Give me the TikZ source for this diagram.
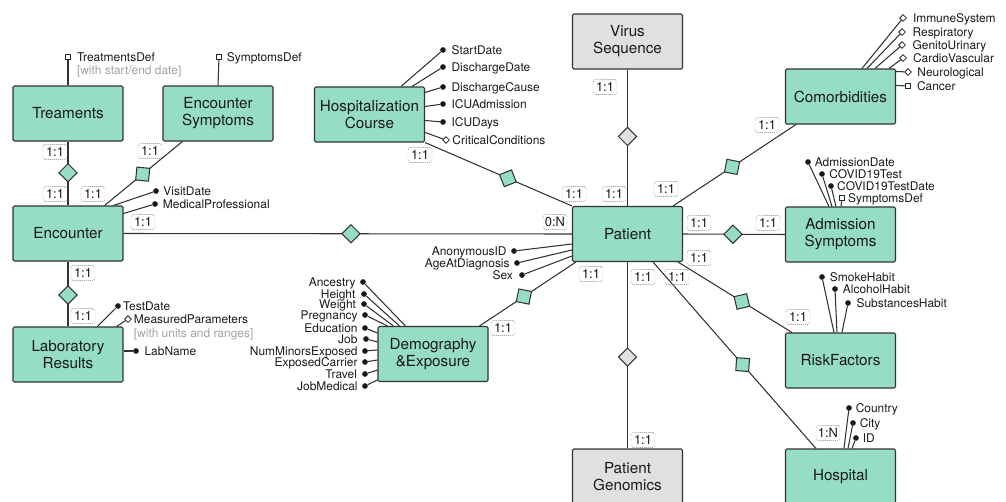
\documentclass[tikz,border=0pt]{standalone}
\usepackage{fontspec}
\setmainfont{TeX Gyre Heros}
\usetikzlibrary{shapes.geometric,positioning,calc}
\definecolor{mint}{RGB}{150,221,199}
\definecolor{boxgray}{RGB}{224,224,224}
\definecolor{edge}{RGB}{50,50,50}
\definecolor{notegray}{RGB}{160,160,160}
\begin{document}
\begin{tikzpicture}[x=0.03cm,y=-0.03cm,
  entity/.style={draw=edge, line width=0.9pt, fill=mint, rounded corners=1.2pt,
    minimum width=3.3cm, minimum height=1.65cm, inner sep=0pt, align=center,
    font=\fontsize{13}{14.5}\selectfont, text=black!90},
  greyent/.style={entity, fill=boxgray},
  rel/.style={diamond, draw=edge, line width=0.9pt, fill=mint, inner sep=0pt,
    minimum width=0.56cm, minimum height=0.56cm},
  greyrel/.style={rel, fill=boxgray},
  link/.style={draw=edge, line width=0.9pt},
  card/.style={draw=black!50, dash pattern=on 0.9pt off 0.8pt, rounded corners=1.5pt,
    inner sep=1pt, minimum width=0.72cm, minimum height=0.44cm,
    font=\fontsize{11}{12}\selectfont, text=black!90},
  dotm/.style={circle, fill=black!90, inner sep=0pt, minimum size=0.17cm},
  sqm/.style={draw=black!85, fill=white, line width=0.7pt, inner sep=0pt, minimum size=0.15cm},
  dmm/.style={diamond, draw=black!85, fill=white, line width=0.7pt, inner sep=0pt, minimum size=0.21cm},
  attr/.style={font=\fontsize{10.2}{11}\selectfont, inner sep=0pt, text height=7.3pt, text depth=0pt, text=black!90},
  note/.style={attr, text=notegray},
]
\useasboundingbox (0,0) rectangle (1006,501);

% ---------- entities ----------
\node[entity] (treat) at (68,113.5) {Treaments};
\node[entity] (encsym) at (218,113.5) {Encounter\\Symptoms};
\node[entity] (enc) at (68,233.5) {Encounter};
\node[entity] (lab) at (68,354.5) {Laboratory\\Results};
\node[entity] (hosp) at (369.5,114.5) {Hospitalization\\Course};
\node[greyent] (virus) at (627.5,41.5) {Virus\\Sequence};
\node[entity] (comorb) at (840.5,96.5) {Comorbidities};
\node[entity] (pat) at (627.5,234) {Patient};
\node[entity] (adm) at (840.5,234.5) {Admission\\Symptoms};
\node[entity] (risk) at (840.5,360.5) {RiskFactors};
\node[entity] (hospital) at (840.5,476.5) {Hospital};
\node[greyent] (gen) at (627.5,476.5) {Patient\\Genomics};
\node[entity] (dem) at (433,354) {Demography\\\&Exposure};

% ---------- relationships ----------
\draw[link] (treat.south) -- node[rel,pos=0.49,sloped] (r1) {} (enc.north);
\draw[link] ($(enc.north east)+(-19,0)$) -- node[rel,pos=0.49,sloped] (r2) {} ($(encsym.south west)+(20,0)$);
\draw[link] (enc.east) -- node[rel,pos=0.507] (r3) {} (pat.west);
\draw[link] (enc.south) -- node[rel,pos=0.515,sloped] (r4) {} (lab.north);
\draw[link] (hosp.south east) -- node[rel,pos=0.564,sloped] (r5) {} (pat.north west);
\draw[link] (virus.south) -- node[greyrel,pos=0.49,sloped] (r6) {} (pat.north);
\draw[link] ($(pat.north east)+(-10,0)$) -- node[rel,pos=0.48,sloped] (r7) {} ($(comorb.south west)+(11,0)$);
\draw[link] (pat.east) -- node[rel,pos=0.49] (r8) {} (adm.west);
\draw[link] ($(pat.south east)+(-5,0)$) -- node[rel,pos=0.56,sloped] (r9) {} ($(risk.north west)+(7,0)$);
\draw[link] ($(pat.south east)+(-30,0)$) -- node[rel,pos=0.55,sloped] (r10) {} ($(hospital.north west)+(31,0)$);
\draw[link] (pat.south) -- node[greyrel,pos=0.51,sloped] (r11) {} (gen.north);
\draw[link] ($(dem.north east)+(-9,0)$) -- node[rel,pos=0.46,sloped] (r12) {} ($(pat.south west)+(4,0)$);

% ---------- cardinalities ----------
\node[card] (k1) at (55,152) {1:1};
\node[card] (k2) at (55,194) {1:1};
\node[card] (k3) at (150,151) {1:1};
\node[card] (k4) at (93,194) {1:1};
\node[card] (k5) at (143,222) {1:1};
\node[card] (k6) at (555,222) {0:N};
\node[card] (k7) at (83,273) {1:1};
\node[card] (k8) at (83,316) {1:1};
\node[card] (k9) at (420,155) {1:1};
\node[card] (k10) at (574,194) {1:1};
\node[card] (k11) at (605,87) {1:1};
\node[card] (k12) at (614,194) {1:1};
\node[card] (k13) at (767,125) {1:1};
\node[card] (k14) at (666,189) {1:1};
\node[card] (k15) at (699,223) {1:1};
\node[card] (k16) at (768,223) {1:1};
\node[card] (k17) at (699,258) {1:1};
\node[card] (k18) at (798,317) {1:1};
\node[card] (k19) at (677,277) {1:1};
\node[card] (k20) at (828,433) {1:N};
\node[card] (k21) at (643,277) {1:1};
\node[card] (k22) at (643,440) {1:1};
\node[card] (k23) at (591,274) {1:1};
\node[card] (k24) at (503,328) {1:1};

% ---------- attributes: Treaments / Encounter Symptoms ----------
\node[sqm] (ta) at (68,57) {};
\node[attr, right=5pt of ta] (tat) {TreatmentsDef};
\node[note, anchor=west] (tan) at ($(tat.west)+(0,13)$) {[with start/end date]};
\draw[link] (treat.north) -- (ta);
\node[sqm] (esa) at (219,57) {};
\node[attr, right=4pt of esa] (esat) {SymptomsDef};
\draw[link] (encsym.north) -- (esa);

% ---------- attributes: Encounter ----------
\node[dotm] (e1) at (156,191) {};
\node[attr, right=3.5pt of e1] (e1t) {VisitDate};
\draw[link] ($(enc.north east)+(-10,0)$) -- (e1);
\node[dotm] (e2) at (155,204) {};
\node[attr, right=4pt of e2] (e2t) {MedicalProfessional};
\draw[link] ($(enc.north east)+(0,8)$) -- (e2);

% ---------- attributes: Laboratory Results ----------
\node[dotm] (l1) at (118,306) {};
\node[attr, right=1.5pt of l1] (l1t) {TestDate};
\draw[link] ($(lab.north west)+(85,0)$) -- (l1);
\node[dmm] (l2) at (128,319) {};
\node[attr, right=1.5pt of l2] (l2t) {MeasuredParameters};
\node[note, anchor=west] (l2n) at ($(l2t.west)+(0,14)$) {[with units and ranges]};
\draw[link] ($(lab.north west)+(104,0)$) -- (l2);
\node[dotm] (l3) at (136,351) {};
\node[attr, right=4.5pt of l3] (l3t) {LabName};
\draw[link] ($(lab.east)+(0,-3.5)$) -- (l3);

% ---------- attributes: Hospitalization Course ----------
\node[dotm] (h1) at (443,50) {};
\node[attr, right=4.5pt of h1] (h1t) {StartDate};
\draw[link] ($(hosp.north west)+(87,0)$) -- (h1);
\node[dotm] (h2) at (443,67) {};
\node[attr, right=4.5pt of h2] (h2t) {DischargeDate};
\draw[link] ($(hosp.north west)+(98,0)$) -- (h2);
\node[dotm] (h3) at (443,87) {};
\node[attr, right=4.5pt of h3] (h3t) {DischargeCause};
\draw[link] ($(hosp.north east)+(0,6)$) -- (h3);
\node[dotm] (h4) at (443,104) {};
\node[attr, right=4.5pt of h4] (h4t) {ICUAdmission};
\draw[link] ($(hosp.north east)+(0,20)$) -- (h4);
\node[dotm] (h5) at (443,122) {};
\node[attr, right=4.5pt of h5] (h5t) {ICUDays};
\draw[link] ($(hosp.north east)+(0,34)$) -- (h5);
\node[dmm] (h6) at (446,140) {};
\node[attr, right=2pt of h6] (h6t) {CriticalConditions};
\draw[link] ($(hosp.north east)+(0,46)$) -- (h6);

% ---------- attributes: Comorbidities ----------
\node[dmm] (cm1) at (903,18) {};
\node[attr, right=5pt of cm1] (cm1t) {ImmuneSystem};
\draw[link] ($(comorb.north west)+(77,0)$) -- (cm1);
\node[dmm] (cm2) at (902,32) {};
\node[attr, right=5.5pt of cm2] (cm2t) {Respiratory};
\draw[link] ($(comorb.north west)+(82,0)$) -- (cm2);
\node[dmm] (cm3) at (902,45) {};
\node[attr, right=5.5pt of cm3] (cm3t) {GenitoUrinary};
\draw[link] ($(comorb.north west)+(90,0)$) -- (cm3);
\node[dmm] (cm4) at (903,58) {};
\node[attr, right=5pt of cm4] (cm4t) {CardioVascular};
\draw[link] ($(comorb.north west)+(104,0)$) -- (cm4);
\node[dmm] (cm5) at (908,72) {};
\node[attr, right=4.5pt of cm5] (cm5t) {Neurological};
\draw[link] ($(comorb.north east)+(0,3)$) -- (cm5);
\node[sqm] (cm6) at (908,86) {};
\node[attr, right=5pt of cm6] (cm6t) {Cancer};
\draw[link] ($(comorb.north east)+(0,17)$) -- (cm6);

% ---------- attributes: Admission Symptoms ----------
\node[dotm] (a1) at (808,162) {};
\node[attr, right=3pt of a1] (a1t) {AdmissionDate};
\draw[link] ($(adm.north west)+(44,0)$) -- (a1);
\node[dotm] (a2) at (822,174) {};
\node[attr, right=3.5pt of a2] (a2t) {COVID19Test};
\draw[link] ($(adm.north west)+(47,0)$) -- (a2);
\node[dotm] (a3) at (831,186) {};
\node[attr, right=2.5pt of a3] (a3t) {COVID19TestDate};
\draw[link] ($(adm.north west)+(51,0)$) -- (a3);
\node[sqm] (a4) at (842,198) {};
\node[attr, right=2.5pt of a4] (a4t) {SymptomsDef};
\draw[link] ($(adm.north west)+(56,0)$) -- (a4);

% ---------- attributes: RiskFactors ----------
\node[dotm] (rk1) at (822,277) {};
\node[attr, right=4pt of rk1] (rk1t) {SmokeHabit};
\draw[link] ($(risk.north west)+(49,0)$) -- (rk1);
\node[dotm] (rk2) at (835,289) {};
\node[attr, right=4pt of rk2] (rk2t) {AlcoholHabit};
\draw[link] ($(risk.north west)+(52,0)$) -- (rk2);
\node[dotm] (rk3) at (848,303) {};
\node[attr, right=4.5pt of rk3] (rk3t) {SubstancesHabit};
\draw[link] ($(risk.north west)+(57,0)$) -- (rk3);

% ---------- attributes: Hospital ----------
\node[dotm] (hp1) at (849,408) {};
\node[attr, right=3pt of hp1] (hp1t) {Country};
\draw[link] ($(hospital.north west)+(59,0)$) -- (hp1);
\node[dotm] (hp2) at (853,423) {};
\node[attr, right=3pt of hp2] (hp2t) {City};
\draw[link] ($(hospital.north west)+(63,0)$) -- (hp2);
\node[dotm] (hp3) at (856,438) {};
\node[attr, right=3pt of hp3] (hp3t) {ID};
\draw[link] ($(hospital.north west)+(67,0)$) -- (hp3);

% ---------- attributes: Patient ----------
\node[dotm] (p1) at (514,251) {};
\node[attr, left=3.5pt of p1] (p1t) {AnonymousID};
\draw[link] ($(pat.west)+(0,10)$) -- (p1);
\node[dotm] (p2) at (517,263) {};
\node[attr, left=3.5pt of p2] (p2t) {AgeAtDiagnosis};
\draw[link] ($(pat.west)+(0,16)$) -- (p2);
\node[dotm] (p3) at (522,275) {};
\node[attr, left=5pt of p3] (p3t) {Sex};
\draw[link] ($(pat.west)+(0,22)$) -- (p3);

% ---------- attributes: Demography & Exposure ----------
\node[dotm] (d1) at (363,282) {};
\node[attr, left=3.5pt of d1] (d1t) {Ancestry};
\draw[link] ($(dem.north west)+(28,0)$) -- (d1);
\node[dotm] (d2) at (364,294) {};
\node[attr, left=4.5pt of d2] (d2t) {Height};
\draw[link] ($(dem.north west)+(22,0)$) -- (d2);
\node[dotm] (d3) at (364,304) {};
\node[attr, left=4pt of d3] (d3t) {Weight};
\draw[link] ($(dem.north west)+(16,0)$) -- (d3);
\node[dotm] (d4) at (365,315) {};
\node[attr, left=3.5pt of d4] (d4t) {Pregnancy};
\draw[link] ($(dem.north west)+(10,0)$) -- (d4);
\node[dotm] (d5) at (365,328) {};
\node[attr, left=3.5pt of d5] (d5t) {Education};
\draw[link] ($(dem.north west)+(0,7)$) -- (d5);
\node[dotm] (d6) at (366,339) {};
\node[attr, left=4.5pt of d6] (d6t) {Job};
\draw[link] ($(dem.north west)+(0,16)$) -- (d6);
\node[dotm] (d7) at (365,351) {};
\node[attr, left=3.5pt of d7] (d7t) {NumMinorsExposed};
\draw[link] ($(dem.north west)+(0,24)$) -- (d7);
\node[dotm] (d8) at (365,362) {};
\node[attr, left=3.5pt of d8] (d8t) {ExposedCarrier};
\draw[link] ($(dem.north west)+(0,34)$) -- (d8);
\node[dotm] (d9) at (365,374) {};
\node[attr, left=4pt of d9] (d9t) {Travel};
\draw[link] ($(dem.north west)+(0,44)$) -- (d9);
\node[dotm] (d10) at (365,386) {};
\node[attr, left=3.5pt of d10] (d10t) {JobMedical};
\draw[link] ($(dem.north west)+(0,54)$) -- (d10);
\end{tikzpicture}
\end{document}
